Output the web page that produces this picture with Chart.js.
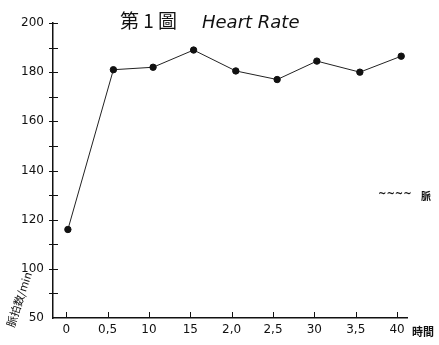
<!DOCTYPE html>
<html lang="ja">
<head>
    <meta charset="UTF-8">
    <title>第1圖 Heart Rate</title>
    <style>
        html, body { margin: 0; padding: 0; background: #fff; }
        #wrap { width: 439px; height: 345px; }
    </style>
    <script src="https://cdn.jsdelivr.net/npm/chart.js"></script>
</head>
<body>
    <div id="wrap"><canvas id="hr" width="439" height="345"></canvas></div>

    <script>
        // values
        const timeMin = [0.2, 5.7, 10.5, 15.4, 20.5, 25.5, 30.3, 35.5, 40.5];
        const heartRate = [116, 181, 182, 189, 180.5, 177, 184.5, 180, 186.5];
        const xTickValues = [0, 5, 10, 15, 20, 25, 30, 35, 40];
        const xTickLabels = ['0', '0,5', '10', '15', '2,0', '2,5', '30', '3,5', '40'];
        const yTickValues = [80, 100, 120, 140, 160, 180, 200];
        const yTickLabels = ['50', '100', '120', '140', '160', '180', '200'];

        const ink = '#111';

        // tick marks crossing the axes, like on the paper
        const handTicks = {
            id: 'handTicks',
            afterDraw(chart) {
                const ctx = chart.ctx;
                const xs = chart.scales.x, ys = chart.scales.y;
                const ax = ys.left + ys.width, ay = xs.top;
                ctx.save();
                ctx.strokeStyle = ink;
                ctx.lineWidth = 1;
                for (let v = 90; v <= 200; v += 10) {
                    const py = Math.round(ys.getPixelForValue(v)) + 0.5;
                    ctx.beginPath();
                    ctx.moveTo(ax - 4, py);
                    ctx.lineTo(ax + 5, py);
                    ctx.stroke();
                }
                xTickValues.forEach(v => {
                    const px = Math.round(xs.getPixelForValue(v)) + 0.5;
                    ctx.beginPath();
                    ctx.moveTo(px, ay - 6);
                    ctx.lineTo(px, ay);
                    ctx.stroke();
                });

                // title
                ctx.fillStyle = ink;
                ctx.textBaseline = 'alphabetic';
                ctx.font = '19px "Noto Sans CJK JP"';
                ctx.fillText('第 1 圖', 120, 28);
                ctx.font = 'italic 18px "DejaVu Sans"';
                ctx.fillText('Heart Rate', 202, 28);

                // x axis unit
                ctx.font = 'bold 11px "Noto Sans CJK JP"';
                ctx.fillText('時間', 412, 336);

                // y axis unit, written slanting up the left margin
                ctx.save();
                ctx.translate(14, 328);
                ctx.rotate(-1.25);
                ctx.font = '11px "Noto Sans CJK JP"';
                ctx.fillText('脈拍数/min', 0, 0);
                ctx.restore();

                // small note on the right
                ctx.font = 'bold 10px "DejaVu Sans"';
                ctx.fillText('~~~~', 378, 197);
                ctx.font = 'bold 10px "Noto Sans CJK JP"';
                ctx.fillText('脈', 421, 200);
                ctx.restore();
            }
        };

        const points = timeMin.map((t, i) => ({ x: t, y: heartRate[i] }));

        new Chart(document.getElementById('hr'), {
            type: 'line',
            data: {
                datasets: [{
                    data: points,
                    borderColor: '#222',
                    borderWidth: 1,
                    pointBackgroundColor: ink,
                    pointBorderColor: ink,
                    pointRadius: 3.2,
                    tension: 0
                }]
            },
            options: {
                responsive: false,
                animation: false,
                layout: { padding: { top: 23, right: 32, left: 0, bottom: 0 } },
                plugins: {
                    legend: { display: false },
                    tooltip: { enabled: false }
                },
                scales: {
                    x: {
                        type: 'linear',
                        min: -1.6,
                        max: 41.2,
                        grid: { display: false },
                        border: { display: true, color: ink, width: 1.5 },
                        afterBuildTicks: s => { s.ticks = xTickValues.map(v => ({ value: v })); },
                        afterFit: s => { s.height = 27; },
                        ticks: {
                            padding: -3,
                            maxRotation: 0,
                            autoSkip: false,
                            color: ink,
                            font: { family: 'DejaVu Sans', size: 12 },
                            callback: v => xTickLabels[xTickValues.indexOf(v)] ?? ''
                        }
                    },
                    y: {
                        min: 80,
                        max: 200,
                        grid: { display: false },
                        border: { display: true, color: ink, width: 1.5 },
                        afterBuildTicks: s => { s.ticks = yTickValues.map(v => ({ value: v })); },
                        afterFit: s => { s.width = 53; },
                        ticks: {
                            padding: 1,
                            autoSkip: false,
                            color: ink,
                            font: { family: 'DejaVu Sans', size: 12 },
                            callback: v => yTickLabels[yTickValues.indexOf(v)] ?? ''
                        }
                    }
                }
            },
            plugins: [handTicks]
        });
    </script>
</body>
</html>
